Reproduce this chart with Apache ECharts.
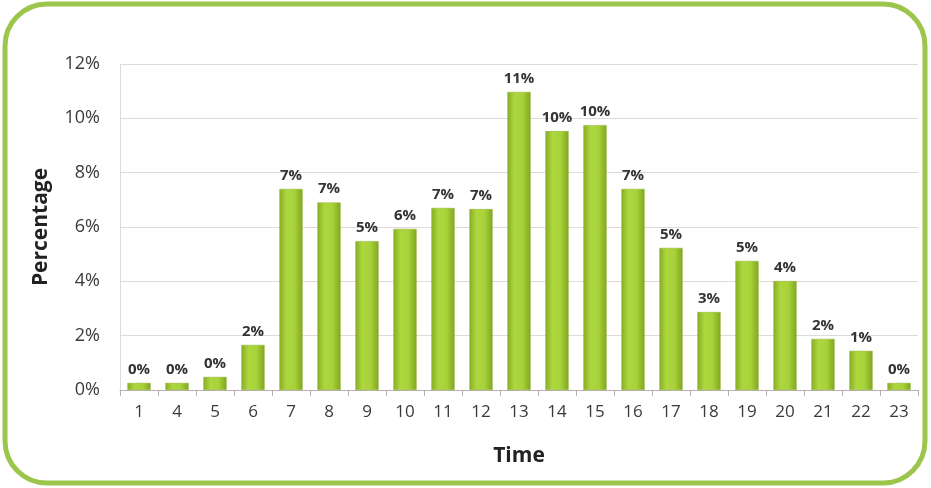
<!DOCTYPE html>
<html>
<head>
<meta charset="utf-8">
<script src="https://cdn.jsdelivr.net/npm/echarts@6/dist/echarts.min.js"></script>
<style>
  html, body { margin: 0; padding: 0; background: #ffffff; }
  #chart { width: 931px; height: 488px; }
</style>
</head>
<body>
<div id="chart"></div>
<script>
// Hour of day and the share of events that fall in each hour (%)
const hours = ['1', '4', '5', '6', '7', '8', '9', '10', '11', '12', '13', '14', '15', '16', '17', '18', '19', '20', '21', '22', '23'];
const shares = [0.26, 0.26, 0.48, 1.66, 7.4, 6.9, 5.48, 5.93, 6.7, 6.66, 10.97, 9.53, 9.75, 7.4, 5.23, 2.87, 4.75, 4.01, 1.88, 1.44, 0.26];
const yTicks = [0, 2, 4, 6, 8, 10, 12];

const FONT = '"Open Sans", "Liberation Sans", sans-serif';

const chart = echarts.init(document.getElementById('chart'), null, { renderer: 'canvas' });

chart.setOption({
  backgroundColor: '#ffffff',
  animation: false,
  textStyle: { fontFamily: FONT },
  graphic: [{
    type: 'rect',
    shape: { x: 5, y: 4, width: 920, height: 479, r: 42 },
    style: { fill: 'none', stroke: '#9bc54b', lineWidth: 5 },
    silent: true
  }],
  grid: { left: 120, right: 13, top: 64, bottom: 98 },
  xAxis: {
    type: 'category',
    data: hours,
    name: 'Time',
    nameLocation: 'middle',
    nameGap: 56,
    nameTextStyle: { fontSize: 21, fontWeight: 'bold', color: '#222', fontFamily: FONT },
    axisLine: { lineStyle: { color: '#b8b0b0', width: 1 } },
    axisTick: { show: true, alignWithLabel: false, length: 6, lineStyle: { color: '#b8b0b0' } },
    axisLabel: { fontSize: 17, color: '#3a3a3a', margin: 14, fontFamily: FONT }
  },
  yAxis: {
    type: 'value',
    min: yTicks[0],
    max: yTicks[yTicks.length - 1],
    interval: 2,
    name: 'Percentage',
    nameLocation: 'middle',
    nameRotate: 90,
    nameGap: 68,
    nameTextStyle: { fontSize: 21, fontWeight: 'bold', color: '#222', fontFamily: FONT },
    axisLine: { show: true, lineStyle: { color: '#e2dada' } },
    axisTick: { show: false },
    splitLine: { lineStyle: { color: '#e2d8d8', width: 1 } },
    axisLabel: { fontSize: 18, color: '#3a3a3a', margin: 20, formatter: v => v + '%', fontFamily: FONT }
  },
  series: [{
    type: 'bar',
    data: shares,
    barWidth: '61%',
    itemStyle: {
      color: new echarts.graphic.LinearGradient(0, 0, 1, 0, [
        { offset: 0, color: '#86ad24' },
        { offset: 0.3, color: '#add63f' },
        { offset: 0.65, color: '#a8d23a' },
        { offset: 1, color: '#81a620' }
      ]),
      borderColor: '#8cae2e',
      borderWidth: 0.5
    },
    label: {
      show: true,
      position: 'top',
      distance: 6,
      fontSize: 15,
      fontWeight: 'bold',
      color: '#333',
      fontFamily: FONT,
      formatter: p => Math.round(p.value) + '%'
    }
  }]
});
</script>
</body>
</html>
